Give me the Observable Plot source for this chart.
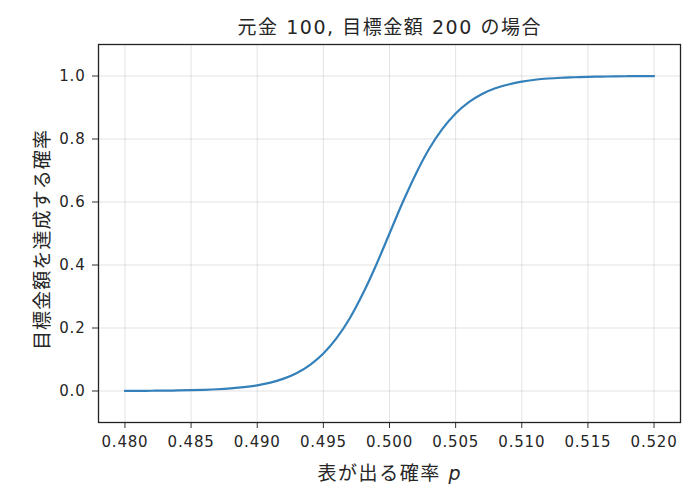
<!DOCTYPE html>
<html><head><meta charset="utf-8">
<script src="https://cdn.jsdelivr.net/npm/d3@7"></script>
<script src="https://cdn.jsdelivr.net/npm/@observablehq/plot@0.6"></script>
<style>
body{margin:0;background:#fff;} svg{display:block;}
g[aria-label="x-axis tick label"] text, g[aria-label="y-axis tick label"] text {letter-spacing: 0.8px;}
</style>
</head><body><div id="chart"></div>
<script>
const title = "元金 100, 目標金額 200 の場合";
const xLabel = "表が出る確率 ";
const yLabel = "目標金額を達成する確率";
const xTicks = [0.480,0.485,0.490,0.495,0.500,0.505,0.510,0.515,0.520];
const yTicks = [0,0.2,0.4,0.6,0.8,1.0];
const pValues = [0.480,0.481,0.482,0.483,0.484,0.485,0.486,0.487,0.488,0.489,0.490,0.491,0.492,0.493,0.494,0.495,0.496,0.497,0.498,0.499,0.500,0.501,0.502,0.503,0.504,0.505,0.506,0.507,0.508,0.509,0.510,0.511,0.512,0.513,0.514,0.515,0.516,0.517,0.518,0.519,0.520];
const probValues = [0.0003,0.0005,0.0008,0.0011,0.0017,0.0025,0.0037,0.0055,0.0082,0.0121,0.018,0.0266,0.0392,0.0573,0.0832,0.1192,0.168,0.231,0.310,0.401,0.500,0.599,0.690,0.769,0.832,0.881,0.917,0.943,0.961,0.973,0.982,0.988,0.992,0.9945,0.996,0.9975,0.998,0.9989,0.9993,0.9995,0.9997];
const data = pValues.map((p,i)=>({p, v: probValues[i]}));
const font = "'DejaVu Sans', 'Noto Sans CJK JP', sans-serif";

const chart = Plot.plot({
  width: 698, height: 496,
  marginLeft: 98, marginRight: 18, marginTop: 44, marginBottom: 74,
  style: {fontFamily: font, fontSize: "15px", color: "#262626", background: "#fff"},
  x: {domain: [0.478, 0.522], label: null},
  y: {domain: [-0.1, 1.1], label: null},
  marks: [
    Plot.gridX(xTicks, {stroke: "#b0b0b0", strokeOpacity: 0.45, strokeWidth: 0.8}),
    Plot.gridY(yTicks, {stroke: "#b0b0b0", strokeOpacity: 0.45, strokeWidth: 0.8}),
    Plot.axisX(xTicks, {tickSize: 6, tickPadding: 8, tickFormat: d3.format(".3f"), fontSize: 15, stroke: "#333", fill: "#262626", label: null}),
    Plot.axisY(yTicks, {tickSize: 6, tickPadding: 7, tickFormat: d3.format(".1f"), fontSize: 15, stroke: "#333", fill: "#262626", label: null}),
    Plot.line(data, {x: "p", y: "v", stroke: "#3480ba", strokeWidth: 2.2, curve: "monotone-x"}),
    Plot.frame({stroke: "#222", strokeWidth: 1.3})
  ]
});
const svg = d3.select(chart);
svg.append("text").attr("x", 389).attr("y", 34).attr("text-anchor", "middle")
  .attr("font-size", 19).attr("fill", "#262626").attr("font-family", font)
  .attr("textLength", 303).attr("lengthAdjust", "spacing").text(title);
const xl = svg.append("text").attr("x", 389).attr("y", 480).attr("text-anchor", "middle")
  .attr("font-size", 19).attr("fill", "#262626").attr("font-family", font)
  .attr("textLength", 143).attr("lengthAdjust", "spacing");
xl.append("tspan").text(xLabel);
xl.append("tspan").attr("font-style", "italic").text("p");
svg.append("text").attr("transform", "translate(49,240) rotate(-90)").attr("text-anchor", "middle")
  .attr("font-size", 19).attr("fill", "#262626").attr("font-family", font)
  .attr("textLength", 220).attr("lengthAdjust", "spacing").text(yLabel);
document.getElementById("chart").appendChild(chart);
</script></body></html>
